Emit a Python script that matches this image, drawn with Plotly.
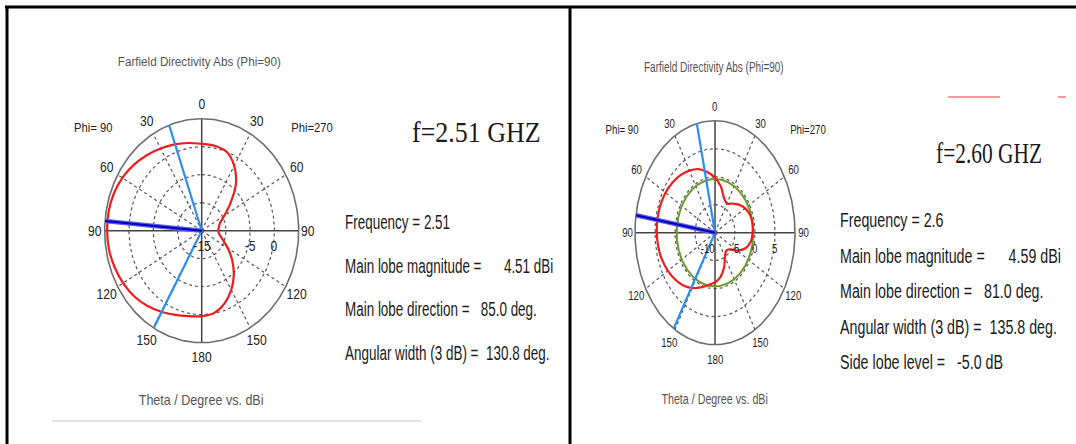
import json
import numpy as np
import plotly.graph_objects as go

W, H = 1076, 444

# Farfield directivity (dBi) versus theta, sampled every 10 degrees
theta = [0, 10, 20, 30, 40, 50, 60, 70, 80, 90, 100, 110, 120, 130, 140, 150, 160, 170, 180]

# f = 2.51 GHz
d251_phi90 = [0.5, 0.9, 1.4, 1.95, 2.6, 3.3, 3.9, 4.3, 4.49, 4.49, 4.4, 4.1, 3.7, 3.2, 2.5, 1.7, 1.0, 0.5, 0.3]
d251_phi270 = [0.5, 0.4, 0.0, -1.6, -4.0, -7.2, -9.6, -11.0, -11.4, -11.6, -11.3, -10.4, -8.8, -6.8, -4.7, -2.8, -1.2, -0.1, 0.3]

# f = 2.60 GHz
d260_phi90 = [-0.2, 1.0, 2.1, 2.8, 3.4, 3.9, 4.3, 4.5, 4.59, 4.55, 4.4, 4.1, 3.6, 3.0, 2.3, 1.4, 0.4, -0.5, -1.1]
d260_phi270 = [-0.2, -1.6, -3.4, -4.0, -3.2, -2.2, -1.3, -0.7, -0.5, -0.6, -0.9, -1.9, -3.6, -5.4, -5.7, -5.0, -3.4, -2.0, -1.1]

# Summary results
freq = [2.51, 2.6]
main_mag = [4.51, 4.59]
main_dir = [85.0, 81.0]
width_3db = [130.8, 135.8]
side_lobe = [None, -5.0]

# Radial scale of each polar panel (dBi at centre and at rim)
r_lims = [(-15, 5), (-10, 10)]
ring_labels = [[-15, -5, 0], [-10, -5, 0, 5]]
angle_ticks = [0, 30, 60, 90, 120, 150, 180]

# panel geometry in pixels: centre x, centre y (from top), radius x, radius y
geom = [(201.7, 230.7, 97, 112), (715, 232.7, 80, 112)]
SPAN = 1.32
DIVIDER = 570
# horizontal squeeze of the plot lettering in each panel (radius x / radius y)
squeeze = [geom[0][2] / geom[0][3], geom[1][2] / geom[1][3]]
# horizontal nudge of the centre value label in each panel
centre_label_shift = [0, -7]

SANS = "Liberation Sans, Arial, sans-serif"
SERIF = "Liberation Serif, Times New Roman, serif"

fig = go.Figure()
annotations = []
ann_squeeze = []


def norm(db, lim):
    lo, hi = lim
    return (np.asarray(db, dtype=float) - lo) / (hi - lo)


def polar_xy(th_deg, r, side):
    t = np.radians(np.asarray(th_deg, dtype=float))
    r = np.asarray(r, dtype=float)
    return side * r * np.sin(t), r * np.cos(t)


def add_ann(sq, **kw):
    annotations.append(dict(showarrow=False, **kw))
    ann_squeeze.append(sq)


panels = [
    (d251_phi90, d251_phi270),
    (d260_phi90, d260_phi270),
]
tick_size = [14, 13.5]

for k, (left_vals, right_vals) in enumerate(panels):
    xa = "x" if k == 0 else "x2"
    ya = "y" if k == 0 else "y2"
    lim = r_lims[k]

    full = np.linspace(0, 2 * np.pi, 361)
    # dotted rings
    for frac in (0.25, 0.5, 0.75):
        fig.add_trace(go.Scatter(x=frac * np.sin(full), y=frac * np.cos(full), mode="lines",
                                 line=dict(color="#555555", width=1.2, dash="dot"),
                                 xaxis=xa, yaxis=ya, hoverinfo="skip", showlegend=False))
    # dotted spokes
    for a in (30, 60, 120, 150):
        for side in (-1, 1):
            sx, sy = polar_xy([a, a], [0, 1], side)
            fig.add_trace(go.Scatter(x=sx, y=sy, mode="lines",
                                     line=dict(color="#555555", width=1.2, dash="dot"),
                                     xaxis=xa, yaxis=ya, hoverinfo="skip", showlegend=False))
    # solid cross
    fig.add_trace(go.Scatter(x=[-1, 1, None, 0, 0], y=[0, 0, None, -1, 1], mode="lines",
                             line=dict(color="#444444", width=1.5),
                             xaxis=xa, yaxis=ya, hoverinfo="skip", showlegend=False))
    # rim
    fig.add_trace(go.Scatter(x=np.sin(full), y=np.cos(full), mode="lines",
                             line=dict(color="#6e6e6e", width=1.6),
                             xaxis=xa, yaxis=ya, hoverinfo="skip", showlegend=False))

    # side lobe level circle
    if side_lobe[k] is not None:
        g = norm(main_mag[k] + side_lobe[k], lim)
        fig.add_trace(go.Scatter(x=g * np.sin(full), y=g * np.cos(full), mode="lines",
                                 line=dict(color="#6a9a2c", width=2),
                                 xaxis=xa, yaxis=ya, hoverinfo="skip", showlegend=False))

    # pattern curve: phi=90 half on the left, phi=270 half on the right
    lx, ly = polar_xy(theta, norm(left_vals, lim), -1)
    rxv, ryv = polar_xy(theta[::-1], norm(right_vals[::-1], lim), 1)
    fig.add_trace(go.Scatter(x=np.concatenate([lx, rxv]), y=np.concatenate([ly, ryv]),
                             mode="lines", line=dict(color="#ee1c1c", width=2.2, shape="spline", smoothing=0.9),
                             xaxis=xa, yaxis=ya, hoverinfo="skip", showlegend=False))

    # 3 dB beam limits
    half = width_3db[k] / 2
    for a in (main_dir[k] - half, main_dir[k] + half):
        bx, by = polar_xy([a, a], [0, 1], -1)
        fig.add_trace(go.Scatter(x=bx, y=by, mode="lines", line=dict(color="#2b8ef0", width=2.2),
                                 xaxis=xa, yaxis=ya, hoverinfo="skip", showlegend=False))
    # main lobe direction
    mx, my = polar_xy([main_dir[k]] * 2, [0, 1], -1)
    fig.add_trace(go.Scatter(x=mx, y=my, mode="lines", line=dict(color="#5a5af0", width=4.5),
                             xaxis=xa, yaxis=ya, hoverinfo="skip", showlegend=False))
    fig.add_trace(go.Scatter(x=mx, y=my, mode="lines", line=dict(color="#0000b8", width=2),
                             xaxis=xa, yaxis=ya, hoverinfo="skip", showlegend=False))

    # angle labels
    for a in angle_ticks:
        sides = [-1] if a in (0, 180) else [-1, 1]
        for side in sides:
            rr = 1.10 if a == 90 else 1.13
            ax_, ay_ = polar_xy([a], [rr], side)
            add_ann(squeeze[k], x=float(ax_[0]), y=float(ay_[0]), xref=xa, yref=ya, text=str(a),
                    font=dict(family=SANS, size=tick_size[k], color="#222222"))
    # radial value labels
    for v in ring_labels[k]:
        nx = float(norm(v, lim))
        add_ann(squeeze[k], x=nx, y=-0.14, xref=xa, yref=ya, text=str(v),
                xshift=centre_label_shift[k] if v == lim[0] else 0,
                font=dict(family=SANS, size=tick_size[k], color="#222222"))


def px(x):
    return x / W


def py(y):
    return 1 - y / H


for k in range(2):
    cx, cy, rx, ry = geom[k]
    xd = [px(cx - SPAN * rx), px(cx + SPAN * rx)]
    yd = [py(cy + SPAN * ry), py(cy - SPAN * ry)]
    suffix = "" if k == 0 else "2"
    fig.update_layout(**{
        "xaxis" + suffix: dict(domain=xd, range=[-SPAN, SPAN], visible=False, fixedrange=True),
        "yaxis" + suffix: dict(domain=yd, range=[-SPAN, SPAN], visible=False, fixedrange=True),
    })


def txt(x, y, s, font, sq, xanchor="center"):
    add_ann(sq, x=px(x), y=py(y), xref="paper", yref="paper", text=s,
            xanchor=xanchor, align=xanchor, yanchor="middle", font=font)


sl, sr = squeeze
# titles and axis captions
txt(199, 61, "Farfield Directivity Abs (Phi=90)", dict(family=SANS, size=13.5, color="#555555"), sl)
txt(714, 67, "Farfield Directivity Abs (Phi=90)", dict(family=SANS, size=14, color="#555555"), sr)
txt(201, 400, "Theta / Degree vs. dBi", dict(family=SANS, size=14.5, color="#555555"), sl)
txt(714, 398, "Theta / Degree vs. dBi", dict(family=SANS, size=15, color="#555555"), sr)
txt(93, 128, "Phi= 90", dict(family=SANS, size=13, color="#222222"), sl)
txt(312, 128, "Phi=270", dict(family=SANS, size=13, color="#222222"), sl)
txt(622, 129, "Phi= 90", dict(family=SANS, size=13.5, color="#222222"), sr)
txt(808, 129, "Phi=270", dict(family=SANS, size=13.5, color="#222222"), sr)

# frequency headings
txt(410, 131, f"f={freq[0]:.2f} GHZ", dict(family=SERIF, size=30, color="#1a1a1a"), sl, "left")
txt(934, 152, f"f={freq[1]:.2f} GHZ", dict(family=SERIF, size=30, color="#1a1a1a"), sr, "left")

NB = "\u00a0"
left_lines = [
    f"Frequency = {freq[0]}",
    f"Main lobe magnitude ={NB * 6}{main_mag[0]:.2f} dBi",
    f"Main lobe direction ={NB * 3}{main_dir[0]:.1f} deg.",
    f"Angular width (3 dB) ={NB * 2}{width_3db[0]:.1f} deg.",
]
for i, s in enumerate(left_lines):
    txt(343, 222 + i * 43.5, s, dict(family=SANS, size=19.5, color="#1a1a1a"), 0.69, "left")
right_lines = [
    f"Frequency = {freq[1]}",
    f"Main lobe magnitude ={NB * 6}{main_mag[1]:.2f} dBi",
    f"Main lobe direction ={NB * 3}{main_dir[1]:.1f} deg.",
    f"Angular width (3 dB) ={NB * 2}{width_3db[1]:.1f} deg.",
    f"Side lobe level ={NB * 3}{side_lobe[1]:.1f} dB",
]
for i, s in enumerate(right_lines):
    txt(838, 220 + i * 35.6, s, dict(family=SANS, size=20, color="#1a1a1a"), sr, "left")

# table frame, caption rule and the faint red strokes at the top of the right cell
shapes = [
    dict(type="line", xref="paper", yref="paper", x0=px(5), x1=1, y0=py(7), y1=py(7),
         line=dict(color="black", width=3)),
    dict(type="line", xref="paper", yref="paper", x0=px(7), x1=px(7), y0=py(6), y1=0,
         line=dict(color="black", width=3)),
    dict(type="line", xref="paper", yref="paper", x0=px(DIVIDER), x1=px(DIVIDER), y0=py(6), y1=0,
         line=dict(color="black", width=3)),
    dict(type="line", xref="paper", yref="paper", x0=px(52), x1=px(421), y0=py(421), y1=py(421),
         line=dict(color="#e2e2e2", width=2)),
    dict(type="line", xref="paper", yref="paper", x0=px(948), x1=px(1000), y0=py(97), y1=py(97),
         line=dict(color="#f39a9a", width=2)),
    dict(type="line", xref="paper", yref="paper", x0=px(1058), x1=px(1066), y0=py(97), y1=py(97),
         line=dict(color="#f39a9a", width=2)),
]

fig.update_layout(width=W, height=H, margin=dict(l=0, r=0, t=0, b=0),
                  paper_bgcolor="white", plot_bgcolor="white",
                  annotations=annotations, shapes=shapes, showlegend=False)

# narrow each annotation's lettering horizontally about its anchor point
post = """
var sq = %s;
var gd = document.getElementById('{plot_id}');
var groups = gd.querySelectorAll('g.annotation');
for (var i = 0; i < groups.length; i++) {
  var g = groups[i];
  var s = sq[+g.getAttribute('data-index')];
  if (!s || s >= 1) continue;
  var t = g.querySelector('text.annotation-text');
  if (!t) continue;
  var len = t.getComputedTextLength();
  var ax = parseFloat(t.getAttribute('x')) || 0;
  t.setAttribute('transform', 'translate(' + (ax * (1 - s)).toFixed(3) + ',0) scale(' + s + ',1)');
  var d = len * (1 - s);
  var rect = g.querySelector('rect.bg');
  if (rect) {
    var x = parseFloat(rect.getAttribute('x')) || 0;
    var w = parseFloat(rect.getAttribute('width')) || 0;
    var a = t.getAttribute('text-anchor');
    if (a === 'middle') { x += d / 2; } else if (a === 'end') { x += d; }
    rect.setAttribute('x', x.toFixed(2));
    rect.setAttribute('width', Math.max(w - d, 0).toFixed(2));
  }
}
""" % json.dumps([round(s, 4) for s in ann_squeeze])

fig.write_html("out.html", config={"displayModeBar": False}, post_script=post)
